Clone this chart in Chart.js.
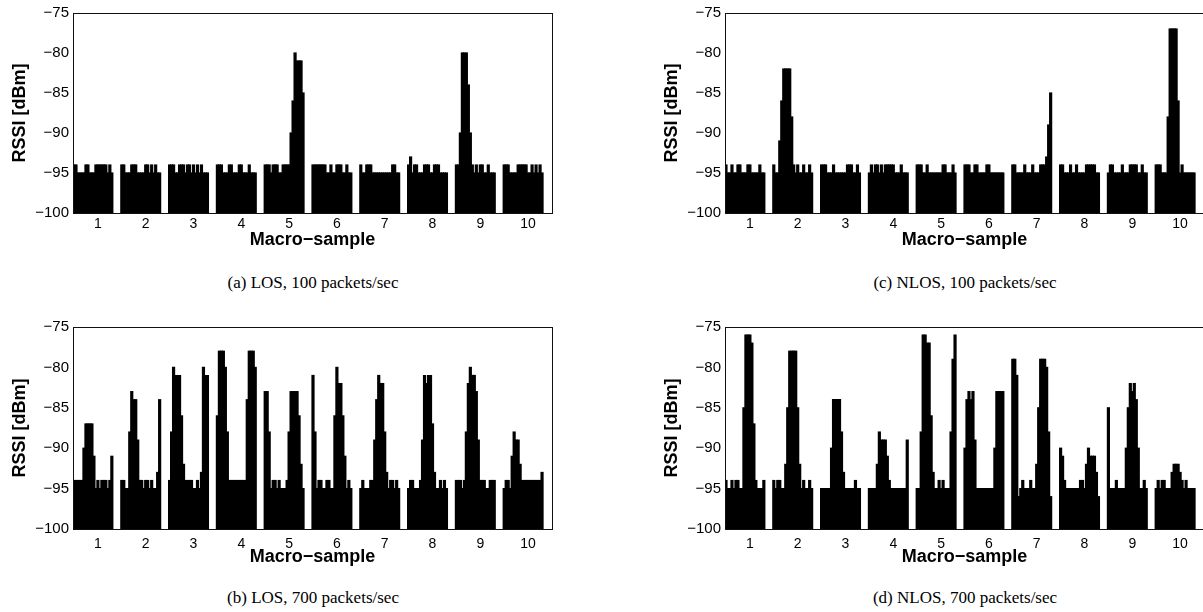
<!DOCTYPE html>
<html>
<head>
<meta charset="utf-8">
<script src="https://cdn.jsdelivr.net/npm/chart.js@4.4.0/dist/chart.umd.min.js"></script>
<style>
  body { margin: 0; width: 1203px; height: 612px; overflow: hidden; background: #fff; position: relative; }
  canvas { position: absolute; }
  .cap { position: absolute; width: 480px; text-align: center; line-height: 20px;
         font-family: "Liberation Serif", "Times New Roman", serif; font-size: 17px; color: #000; }
</style>
</head>
<body>
<canvas id="chartA" width="560" height="262" style="left:0;top:0"></canvas>
<canvas id="chartC" width="560" height="262" style="left:652px;top:0"></canvas>
<canvas id="chartB" width="560" height="262" style="left:0;top:314px"></canvas>
<canvas id="chartD" width="560" height="262" style="left:652px;top:314px"></canvas>
<div class="cap" id="capA" style="left:73px;top:273px"></div>
<div class="cap" id="capC" style="left:725px;top:273px"></div>
<div class="cap" id="capB" style="left:73px;top:588px"></div>
<div class="cap" id="capD" style="left:725px;top:588px"></div>
<script>
// x axis labels, one per macro-sample
const tickLabels = ['1', '2', '3', '4', '5', '6', '7', '8', '9', '10'];
const captions = {
    capA: '(a) LOS, 100 packets/sec',
    capB: '(b) LOS, 700 packets/sec',
    capC: '(c) NLOS, 100 packets/sec',
    capD: '(d) NLOS, 700 packets/sec'
};

// RSSI readings [dBm], 20 readings per macro-sample
const losSlow = [
    [-94,-94,-95,-95,-95,-95,-94,-94,-95,-95,-95,-94,-94,-94,-94,-94,-94,-95,-94,-95],
    [-94,-94,-95,-95,-95,-94,-94,-94,-95,-95,-95,-95,-94,-94,-95,-94,-95,-94,-95,-95],
    [-94,-94,-94,-95,-95,-94,-94,-94,-95,-94,-94,-95,-94,-95,-94,-95,-94,-95,-95,-95],
    [-94,-94,-94,-95,-95,-95,-94,-94,-95,-95,-95,-94,-94,-95,-95,-95,-94,-95,-95,-95],
    [-94,-94,-94,-95,-94,-94,-94,-95,-95,-94,-94,-94,-94,-90,-86,-80,-81,-81,-81,-85],
    [-94,-94,-94,-94,-94,-94,-94,-95,-95,-94,-95,-95,-94,-94,-94,-95,-95,-94,-95,-95],
    [-94,-95,-95,-94,-94,-94,-95,-95,-95,-95,-95,-95,-95,-95,-95,-95,-94,-94,-95,-95],
    [-94,-93,-95,-94,-94,-95,-95,-95,-94,-94,-94,-95,-95,-94,-94,-94,-95,-95,-95,-95],
    [-94,-94,-90,-80,-80,-80,-84,-90,-94,-95,-94,-95,-94,-94,-95,-95,-94,-95,-95,-95],
    [-94,-94,-94,-95,-95,-95,-95,-94,-94,-94,-94,-94,-95,-95,-94,-95,-94,-95,-94,-95]
];
const losFast = [
    [-94,-94,-94,-94,-94,-90,-87,-87,-87,-87,-91,-95,-94,-95,-94,-94,-94,-95,-94,-91],
    [-94,-94,-95,-95,-88,-83,-84,-84,-89,-94,-94,-95,-94,-94,-95,-94,-95,-95,-93,-84],
    [-94,-88,-80,-81,-81,-81,-86,-92,-94,-94,-94,-94,-95,-95,-94,-95,-93,-80,-81,-81],
    [-86,-78,-78,-78,-80,-88,-94,-94,-94,-94,-94,-94,-94,-94,-94,-84,-78,-78,-78,-80],
    [-83,-83,-88,-95,-94,-94,-95,-94,-95,-95,-95,-94,-88,-83,-83,-83,-83,-86,-92,-95],
    [-81,-88,-95,-94,-94,-95,-95,-94,-94,-95,-95,-86,-80,-82,-82,-86,-91,-95,-94,-95],
    [-95,-94,-95,-95,-95,-94,-94,-89,-84,-81,-82,-82,-88,-93,-95,-94,-94,-95,-94,-95],
    [-95,-94,-94,-95,-95,-95,-94,-89,-81,-82,-81,-81,-87,-93,-95,-95,-94,-95,-94,-95],
    [-94,-94,-94,-95,-94,-88,-82,-80,-81,-81,-83,-89,-94,-94,-94,-95,-95,-94,-94,-94],
    [-95,-94,-94,-95,-91,-88,-89,-89,-92,-94,-94,-94,-94,-94,-94,-94,-94,-94,-94,-93]
];
const nlosSlow = [
    [-94,-95,-95,-94,-95,-95,-94,-94,-95,-95,-95,-94,-94,-95,-95,-95,-95,-94,-95,-95],
    [-94,-95,-95,-91,-86,-82,-82,-82,-82,-88,-94,-95,-94,-95,-95,-94,-95,-95,-94,-95],
    [-94,-94,-94,-95,-95,-95,-94,-95,-95,-95,-95,-95,-95,-94,-94,-94,-95,-95,-94,-95],
    [-95,-94,-95,-94,-94,-95,-94,-95,-94,-94,-94,-94,-94,-95,-95,-95,-94,-95,-95,-95],
    [-94,-94,-94,-95,-95,-94,-95,-95,-95,-95,-95,-95,-95,-94,-94,-95,-95,-95,-94,-95],
    [-94,-94,-94,-95,-95,-94,-94,-95,-95,-95,-95,-94,-94,-95,-95,-95,-95,-95,-95,-95],
    [-94,-94,-95,-95,-95,-95,-94,-95,-95,-95,-94,-95,-95,-95,-94,-94,-94,-93,-89,-85],
    [-94,-94,-95,-95,-95,-94,-95,-95,-94,-95,-95,-95,-95,-94,-94,-94,-94,-94,-95,-95],
    [-95,-94,-94,-95,-95,-95,-95,-94,-95,-95,-95,-94,-94,-94,-94,-95,-95,-94,-95,-95],
    [-94,-94,-94,-95,-95,-95,-88,-77,-77,-77,-77,-86,-95,-94,-95,-95,-95,-95,-95,-95]
];
const nlosFast = [
    [-94,-95,-95,-94,-95,-94,-94,-95,-95,-85,-76,-76,-76,-77,-87,-94,-95,-95,-95,-94],
    [-94,-95,-94,-94,-95,-95,-92,-85,-78,-78,-78,-78,-85,-92,-95,-94,-95,-95,-94,-95],
    [-95,-95,-95,-95,-95,-90,-84,-84,-84,-84,-88,-93,-95,-95,-95,-95,-95,-94,-95,-95],
    [-95,-95,-95,-95,-92,-88,-89,-89,-89,-91,-94,-95,-95,-95,-95,-95,-95,-95,-95,-89],
    [-95,-95,-88,-76,-76,-77,-77,-86,-93,-95,-95,-94,-95,-94,-95,-95,-95,-88,-79,-76],
    [-90,-84,-83,-84,-83,-89,-95,-95,-95,-95,-95,-95,-95,-95,-95,-90,-83,-83,-83,-83],
    [-79,-79,-81,-96,-95,-94,-95,-95,-95,-94,-95,-95,-92,-85,-79,-79,-79,-80,-88,-96],
    [-90,-91,-94,-95,-95,-95,-95,-95,-95,-95,-94,-94,-95,-92,-90,-91,-91,-91,-93,-96],
    [-85,-95,-95,-95,-94,-95,-95,-95,-95,-90,-85,-82,-83,-82,-84,-90,-95,-95,-94,-95],
    [-95,-94,-95,-94,-94,-95,-95,-95,-93,-92,-92,-92,-93,-94,-95,-94,-95,-95,-95,-95]
];

const FONT = '"Liberation Sans", Arial, Helvetica, sans-serif';
const PERIOD = 24;   // slots per macro-sample incl. the white gap

// draws the full box round the plot area like matlab does
const boxPlugin = {
    id: 'box',
    afterDraw(chart) {
        const { ctx, chartArea: a } = chart;
        ctx.save();
        ctx.strokeStyle = '#111';
        ctx.lineWidth = 1;
        ctx.strokeRect(Math.round(a.left) + 0.5, Math.round(a.top) + 0.5,
                       Math.round(a.right - a.left), Math.round(a.bottom - a.top));
        ctx.restore();
    }
};

function makeChart(id, blocks, areaBottom, tickPad, titlePad) {
    const points = [];
    blocks.forEach((block, k) => {
        block.forEach((v, j) => points.push({ x: k * PERIOD + j + 0.5, y: v }));
    });
    return new Chart(document.getElementById(id).getContext('2d'), {
        type: 'bar',
        data: {
            datasets: [{
                data: points,
                backgroundColor: '#000',
                borderWidth: 0,
                base: -100,
                barPercentage: 1,
                categoryPercentage: 1,
                inflateAmount: 0.6
            }]
        },
        options: {
            responsive: false,
            animation: false,
            devicePixelRatio: 1,
            layout: { padding: { top: 13, right: 8, left: 0, bottom: 0 } },
            plugins: { legend: { display: false }, tooltip: { enabled: false } },
            scales: {
                x: {
                    type: 'linear',
                    min: 0,
                    max: 240.5,
                    offset: false,
                    grid: { display: false, drawTicks: false },
                    border: { display: false },
                    afterBuildTicks: (s) => { s.ticks = tickLabels.map((t, i) => ({ value: 12.5 + PERIOD * i })); },
                    afterFit: (s) => { s.height = 262 - areaBottom; },
                    ticks: {
                        color: '#000', padding: tickPad, maxRotation: 0, autoSkip: false,
                        font: { family: FONT, size: 14 },
                        callback: (v) => tickLabels[Math.round((v - 12.5) / PERIOD)]
                    },
                    title: {
                        display: true, text: 'Macro\u2212sample', color: '#000',
                        font: { family: FONT, size: 18, weight: 'bold' },
                        padding: { top: 0, bottom: titlePad }
                    }
                },
                y: {
                    min: -100,
                    max: -75,
                    grid: { display: false, drawTicks: false },
                    border: { display: false },
                    afterFit: (s) => { s.width = 73; },
                    ticks: {
                        stepSize: 5, color: '#000', padding: 4,
                        font: { family: FONT, size: 15 },
                        callback: (v) => String(v).replace('-', '\u2212')
                    },
                    title: {
                        display: true, text: 'RSSI [dBm]', color: '#000',
                        font: { family: FONT, size: 18, weight: 'bold' },
                        padding: { top: 9, bottom: 0 }
                    }
                }
            }
        },
        plugins: [boxPlugin]
    });
}

makeChart('chartA', losSlow, 213, 3, 11);
makeChart('chartC', nlosSlow, 213, 3, 11);
makeChart('chartB', losFast, 215, 7, 8);
makeChart('chartD', nlosFast, 215, 7, 8);

Object.entries(captions).forEach(([id, text]) => {
    document.getElementById(id).textContent = text;
});
</script>
</body>
</html>
